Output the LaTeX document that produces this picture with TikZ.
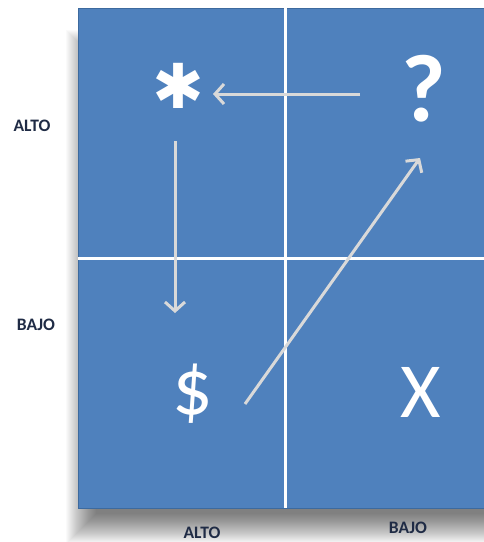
\documentclass[tikz,border=0pt]{standalone}
\usepackage{fontspec}
\setmainfont{Carlito}
\newfontfamily\symfont{DejaVu Sans}
\usetikzlibrary{arrows.meta,calc}
\definecolor{quadblue}{HTML}{4F81BD}
\definecolor{quadedge}{HTML}{3D6A9E}
\definecolor{arrowgray}{HTML}{D9D9D9}
\definecolor{labelnavy}{HTML}{1F2B45}
\tikzset{
  quad/.style={fill=quadblue, draw=quadedge, line width=1pt},
  divider/.style={white, line width=3pt},
  arr/.style={arrowgray, line width=3pt, -{Straight Barb[length=9pt,width=20pt]}},
  sym/.style={text=white, inner sep=0pt},
  axislabel/.style={text=labelnavy, font=\bfseries\fontsize{17.5}{20}\selectfont, inner sep=0pt}
}
\begin{document}
\begin{tikzpicture}[x=1pt,y=-1pt]
\useasboundingbox[fill=white] (0,0) rectangle (484,542);
\foreach \r in {0,1,...,30}
  \fill[black, opacity=0.018] (96-\r,60-\r) rectangle (520,514+\r);
\filldraw[quad] (78,8) rectangle (500,508);
\draw[divider] (285,8) -- (285,508);
\draw[divider] (78,258) -- (500,258);
\node[sym, font=\symfont\fontsize{62}{66}\selectfont] (ast) at (178,86) {✱};
\node[sym, font=\bfseries\fontsize{96}{100}\selectfont] (q) at (424,89) {?};
\node[sym, font=\fontsize{80}{84}\selectfont] (dol) at (193,394) {\$};
\node[sym, font=\fontsize{78}{82}\selectfont] (x) at (421,392) {X};
\node[axislabel] (altoL) at (32,126) {ALTO};
\node[axislabel] (bajoL) at (36,325) {BAJO};
\node[axislabel] (altoB) at (202,533) {ALTO};
\node[axislabel] (bajoB) at (408,528) {BAJO};
\draw[arr] ($(q)+(-64,5)$) -- ($(ast)+(35,8)$);
\draw[arr] ($(ast)+(-3,55)$) -- ($(dol)+(-18,-81)$);
\draw[arr] ($(dol)+(52,10)$) -- ($(q)+(-4,69)$);
\end{tikzpicture}
\end{document}
